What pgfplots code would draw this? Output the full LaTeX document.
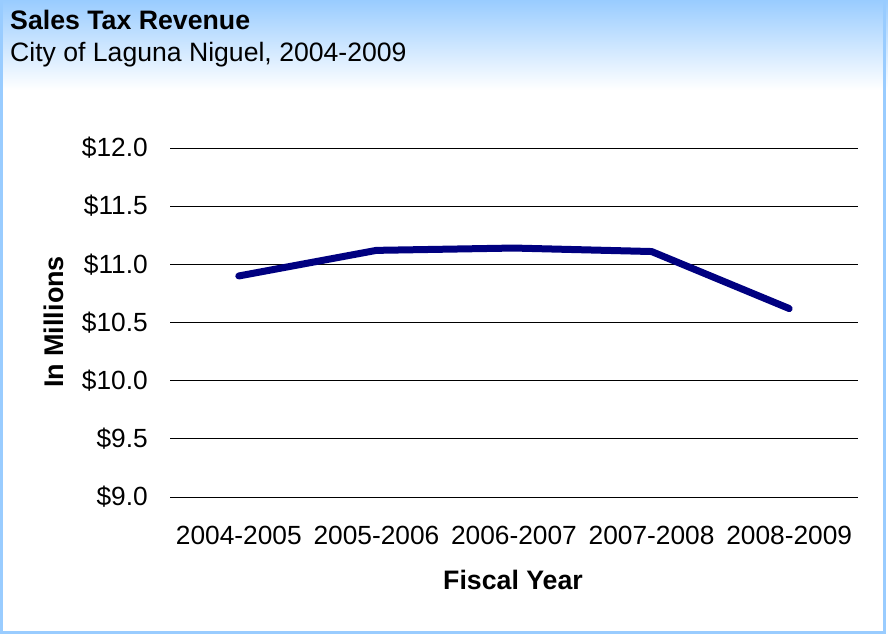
\documentclass[border=0pt]{standalone}
\usepackage{pgfplots}
\pgfplotsset{compat=1.18}
\usepackage{fontspec}
\setmainfont{Liberation Sans}
\definecolor{skyblue}{RGB}{153,204,255}
\definecolor{navyline}{RGB}{0,0,128}
\begin{document}
\begin{tikzpicture}
  % page and background
  \useasboundingbox (0,0) rectangle (888bp,634bp);
  \fill[white] (0,0) rectangle (888bp,634bp);
  \shade[top color=skyblue, bottom color=white] (0,544bp) rectangle (888bp,634bp);
  \draw[skyblue, line width=3bp] (1.5bp,1.5bp) rectangle (884bp,640bp);
  % titles
  \node[anchor=base west, inner sep=0pt, font=\fontsize{26.7bp}{30bp}\selectfont\bfseries] at (10bp,604bp) {Sales Tax Revenue};
  \node[anchor=base west, inner sep=0pt, font=\fontsize{26.6bp}{30bp}\selectfont] at (10bp,572bp) {City of Laguna Niguel, 2004-2009};
  \begin{axis}[
      at={(170bp,137bp)}, anchor=south west,
      width=688bp, height=349bp, scale only axis,
      xmin=-0.5, xmax=4.5, ymin=9, ymax=12,
      xtick=data,
      xticklabels={2004-2005,2005-2006,2006-2007,2007-2008,2008-2009},
      ytick={9,9.5,10,10.5,11,11.5,12},
      yticklabels={\$9.0,\$9.5,\$10.0,\$10.5,\$11.0,\$11.5,\$12.0},
      ymajorgrids,
      grid style={black, line width=0.8bp},
      axis line style={draw=none},
      major tick length=0pt,
      tick label style={font=\fontsize{26.3bp}{30bp}\selectfont},
      yticklabel style={anchor=east, inner sep=0pt, xshift=-22bp},
      xticklabel style={anchor=north, inner sep=0pt, yshift=-29bp},
      clip=false,
    ]
    \addplot[navyline, line width=7bp, line cap=round, line join=round] coordinates {
      (0,10.90) (1,11.12) (2,11.14) (3,11.11) (4,10.62)
    };
  \end{axis}
  % axis titles
  \node[anchor=base, inner sep=0pt, font=\fontsize{26.7bp}{30bp}\selectfont\bfseries] at (513bp,44bp) {Fiscal Year};
  \node[anchor=base, rotate=90, inner sep=0pt, font=\fontsize{27bp}{30bp}\selectfont\bfseries] at (63bp,312bp) {In Millions};
\end{tikzpicture}
\end{document}
